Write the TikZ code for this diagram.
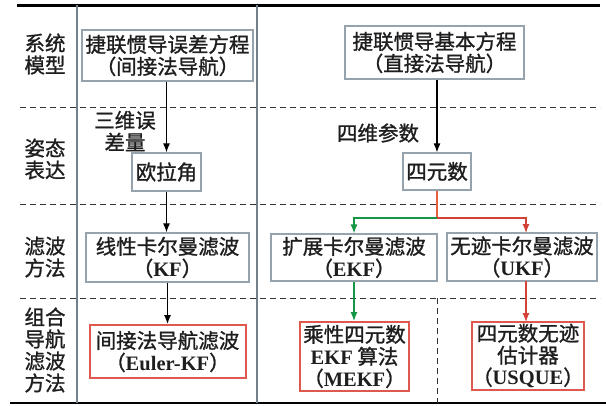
\documentclass[tikz,border=0pt]{standalone}
\usepackage{fontspec}
\newfontfamily\cjk{Noto Sans CJK SC}[FakeBold=1.2]
\newfontfamily\latfont{Liberation Serif}
\usetikzlibrary{arrows.meta}
\definecolor{txt}{RGB}{30,30,30}
\definecolor{boxgray}{RGB}{150,162,172}
\definecolor{boxred}{RGB}{222,88,78}
\definecolor{vgray}{RGB}{115,128,138}
\definecolor{gline}{RGB}{20,150,70}
\definecolor{oline}{RGB}{232,95,60}
\definecolor{rline}{RGB}{212,65,55}
\newcommand{\la}[1]{{\latfont\bfseries #1}}
\tikzset{
  every node/.style={font=\cjk\fontsize{20.5}{22}\selectfont, text=txt, align=center, inner sep=0pt},
  graybox/.style={draw=boxgray, line width=1.2pt, fill=white},
  redbox/.style={draw=boxred, line width=2pt, fill=white},
  arr/.style={line width=1.2pt, -{Latex[length=9pt,width=7pt]}},
  sep/.style={dashed, dash pattern=on 6pt off 4pt, line width=1pt, black!80},
}
\begin{document}
\begin{tikzpicture}[x=1pt,y=-1pt]
\useasboundingbox (0,0) rectangle (606,405);
% frame lines
\draw[line width=3pt] (17,5) -- (600,5);
\draw[line width=2.5pt] (10,403) -- (606,403);
\draw[sep] (20,107) -- (600,107);
\draw[sep] (20,204) -- (600,204);
\draw[sep] (20,298) -- (600,298);
\draw[sep] (437,298) -- (437,403);
\draw[vgray, line width=2pt] (77,5) -- (77,403);
\draw[vgray, line width=2pt] (257,5) -- (257,403);
% row labels
\node (l1) at (45,54) {系统\\模型};
\node (l2) at (45,159) {姿态\\表达};
\node (l3) at (45,257) {滤波\\方法};
\node (l4) at (45,350) {组合\\导航\\滤波\\方法};
% boxes
\node[graybox, minimum width=171pt, minimum height=51pt] (errEq) at (167.5,55.5) {捷联惯导误差方程\\（间接法导航）};
\node[graybox, minimum width=179pt, minimum height=53pt] (basEq) at (434.5,52.5) {捷联惯导基本方程\\（直接法导航）};
\node[graybox, minimum width=69pt, minimum height=38pt] (euler) at (166.5,172) {欧拉角};
\node[graybox, minimum width=68pt, minimum height=37pt] (quat) at (437,171.5) {四元数};
\node[graybox, minimum width=163pt, minimum height=49pt] (kf) at (167.5,257.5) {线性卡尔曼滤波\\（\la{KF}）};
\node[graybox, minimum width=166pt, minimum height=47pt] (ekf) at (354,257.5) {扩展卡尔曼滤波\\（\la{EKF}）};
\node[graybox, minimum width=150pt, minimum height=48pt] (ukf) at (522,257) {无迹卡尔曼滤波\\（\la{UKF}）};
\node[redbox, minimum width=156pt, minimum height=53pt] (ekfl) at (167.5,351.5) {间接法导航滤波\\（\la{Euler-KF}）};
\node[redbox, minimum width=109pt, minimum height=69pt] (mekf) at (354.5,356.5) {乘性四元数\\\la{EKF} 算法\\（\la{MEKF}）};
\node[redbox, minimum width=110pt, minimum height=68pt] (usq) at (528,356) {四元数无迹\\估计器\\（\la{USQUE}）};
% edge labels
\node (lab3) at (125,131) {三维误\\差量};
\node (lab4) at (378,133) {四维参数};
% connectors
\draw[arr] (errEq.south -| euler.north) -- (euler.north);
\draw[arr] (basEq.south -| quat.north) -- (quat.north);
\draw[arr] (euler.south) -- (euler.south |- kf.north);
\draw[arr] (kf.south) -- (kf.south |- ekfl.north);
\coordinate (j) at (437,218);
\draw[oline, line width=1.2pt] (quat.south) -- (j);
\draw[arr, gline] (j) -| (ekf.north);
\draw[arr, rline] (j) -- (526,218) -- (526,233);
\draw[arr, gline] (ekf.south) -- (ekf.south |- mekf.north);
\draw[arr, rline] (526,281) -- (526,322);
\end{tikzpicture}
\end{document}
